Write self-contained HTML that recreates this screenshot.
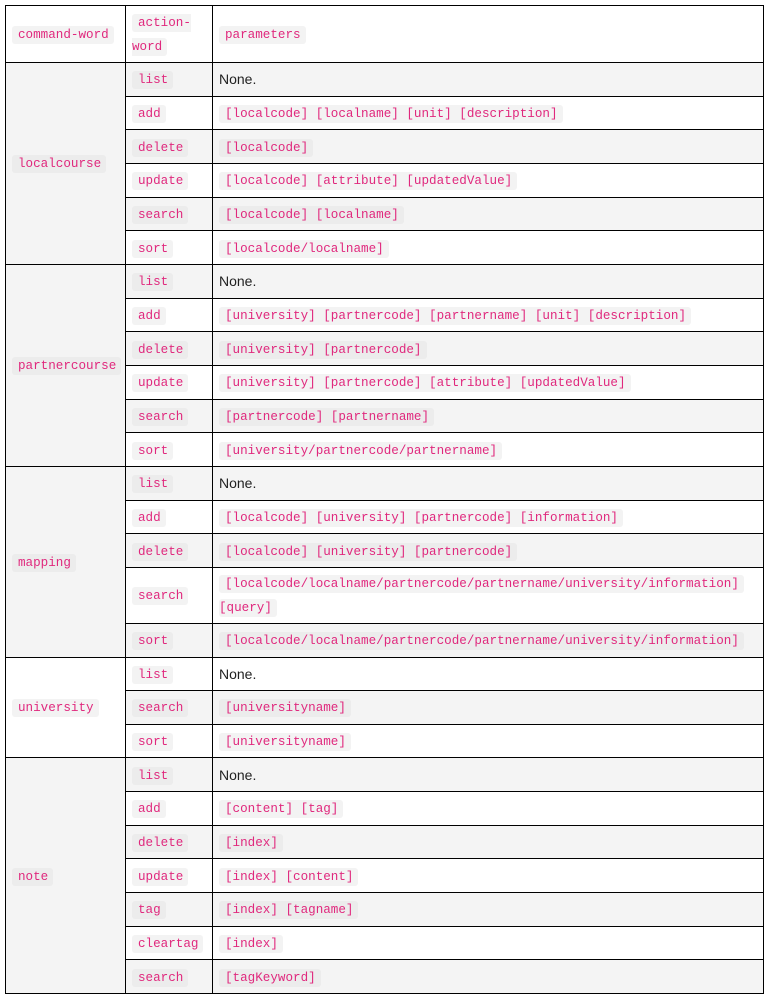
<!DOCTYPE html>
<html><head><meta charset="utf-8"><style>
html,body{margin:0;padding:0;background:#fff;width:767px;height:997px;overflow:hidden}
table{position:absolute;left:5px;top:5px;border-collapse:collapse;table-layout:fixed;width:758px;font-family:"Liberation Sans",sans-serif;font-size:14px;color:#222}
td{border:1px solid #000;padding:0 5px 0 6px;vertical-align:middle;line-height:22px}
tr{height:33.67px}
tr:nth-child(even) td{background:#f4f4f4}
code{font-family:"Liberation Mono",monospace;font-size:12.6px;color:#e0287d;background:#f3f3f3;padding:2px 5px 2px 6px;border-radius:3px}
tr:nth-child(even) code{background:#ececec}
</style></head><body>
<table>
<colgroup><col style="width:120px"><col style="width:87px"><col style="width:551px"></colgroup>
<tr style="height:57px"><td><code>command-word</code></td><td><code>action-word</code></td><td><code>parameters</code></td></tr>
<tr><td rowspan="6"><code>localcourse</code></td><td><code>list</code></td><td>None.</td></tr>
<tr><td><code>add</code></td><td><code>[localcode] [localname] [unit] [description]</code></td></tr>
<tr><td><code>delete</code></td><td><code>[localcode]</code></td></tr>
<tr><td><code>update</code></td><td><code>[localcode] [attribute] [updatedValue]</code></td></tr>
<tr><td><code>search</code></td><td><code>[localcode] [localname]</code></td></tr>
<tr><td><code>sort</code></td><td><code>[localcode/localname]</code></td></tr>
<tr><td rowspan="6"><code>partnercourse</code></td><td><code>list</code></td><td>None.</td></tr>
<tr><td><code>add</code></td><td><code>[university] [partnercode] [partnername] [unit] [description]</code></td></tr>
<tr><td><code>delete</code></td><td><code>[university] [partnercode]</code></td></tr>
<tr><td><code>update</code></td><td><code>[university] [partnercode] [attribute] [updatedValue]</code></td></tr>
<tr><td><code>search</code></td><td><code>[partnercode] [partnername]</code></td></tr>
<tr><td><code>sort</code></td><td><code>[university/partnercode/partnername]</code></td></tr>
<tr><td rowspan="5"><code>mapping</code></td><td><code>list</code></td><td>None.</td></tr>
<tr><td><code>add</code></td><td><code>[localcode] [university] [partnercode] [information]</code></td></tr>
<tr><td><code>delete</code></td><td><code>[localcode] [university] [partnercode]</code></td></tr>
<tr style="height:56px"><td><code>search</code></td><td><code>[localcode/localname/partnercode/partnername/university/information]</code> <code style="padding-left:0">[query]</code></td></tr>
<tr><td><code>sort</code></td><td><code>[localcode/localname/partnercode/partnername/university/information]</code></td></tr>
<tr><td rowspan="3"><code>university</code></td><td><code>list</code></td><td>None.</td></tr>
<tr><td><code>search</code></td><td><code>[universityname]</code></td></tr>
<tr><td><code>sort</code></td><td><code>[universityname]</code></td></tr>
<tr><td rowspan="7"><code>note</code></td><td><code>list</code></td><td>None.</td></tr>
<tr><td><code>add</code></td><td><code>[content] [tag]</code></td></tr>
<tr><td><code>delete</code></td><td><code>[index]</code></td></tr>
<tr><td><code>update</code></td><td><code>[index] [content]</code></td></tr>
<tr><td><code>tag</code></td><td><code>[index] [tagname]</code></td></tr>
<tr><td><code>cleartag</code></td><td><code>[index]</code></td></tr>
<tr><td><code>search</code></td><td><code>[tagKeyword]</code></td></tr>
</table>
</body></html>
